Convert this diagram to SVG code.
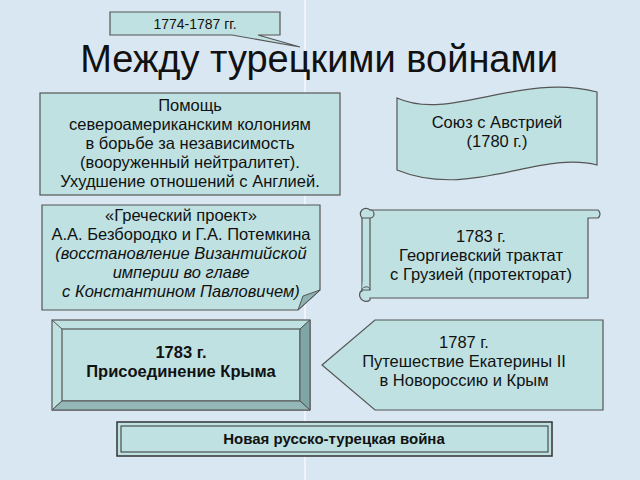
<svg xmlns="http://www.w3.org/2000/svg" width="640" height="480" viewBox="0 0 640 480">
<style>
.b{fill:#bfe1e1;stroke:#555;stroke-width:1.2}
text{font-family:"Liberation Sans",Arial,sans-serif;font-size:16.5px;fill:#111;text-anchor:middle}
.i{font-style:italic}.w{font-weight:bold}
</style>
<rect width="640" height="480" fill="#d9e7f3"/>
<line x1="305" y1="0" x2="305" y2="480" stroke="#eef4fa" stroke-width="2"/>
<g id="callout"><path class="b" d="M110,12H280V35H258L300,47L232,35H110Z"/><text x="195" y="29" style="font-size:14px">1774-1787 гг.</text></g>
<text x="319" y="72" style="font-size:38px">Между турецкими войнами</text>
<g id="help"><rect class="b" x="40" y="93" width="300" height="102"/>
<text x="190" y="111">Помощь</text><text x="190" y="130">североамериканским колониям</text><text x="190" y="149">в борьбе за независимость</text><text x="190" y="168">(вооруженный нейтралитет).</text><text x="190" y="187">Ухудшение отношений с Англией.</text></g>
<g id="austria"><path class="b" d="M397,98C450,122 520,72 597,92V165C540,150 470,200 397,170Z"/>
<text x="497" y="128">Союз с Австрией</text><text x="497" y="147">(1780 г.)</text></g>
<g id="greek"><path class="b" d="M42,205H320V290L298,310H42Z"/><path d="M298,310L303,296L320,290Z" fill="#8fb3b3" stroke="#555"/>
<text x="181" y="221">«Греческий проект»</text><text x="181" y="240">А.А. Безбородко и Г.А. Потемкина</text><text class="i" x="181" y="259">(восстановление Византийской</text><text class="i" x="181" y="278">империи во главе</text><text class="i" x="181" y="297">с Константином Павловичем)</text></g>
<g id="scroll"><path class="b" d="M370,210H598A5,5 0 0 1 598,218H588V298H370V300A5,5 0 0 1 362,290V218"/><path class="b" d="M370,210V290H362"/><path class="b" d="M362,218A5,5 0 0 1 370,210A4,4 0 0 1 370,218Z"/><path d="M362,292A4,4 0 0 1 370,290" fill="none" stroke="#555"/>
<text x="481" y="242">1783 г.</text><text x="481" y="261">Георгиевский трактат</text><text x="481" y="280">с Грузией (протекторат)</text></g>
<g id="crimea"><rect class="b" x="52" y="320" width="258" height="90"/><rect class="b" x="62" y="329" width="238" height="72"/>
<path d="M52,320L62,329M310,320L300,329M52,410L62,401M310,410L300,401" stroke="#555"/>
<path d="M300,329L310,320V410L300,401Z" fill="#7fa6a6" stroke="#555"/><path d="M62,401L52,410H310L300,401Z" fill="#94b8b8" stroke="#555"/>
<text class="w" x="181" y="358">1783 г.</text><text class="w" x="181" y="377">Присоединение Крыма</text></g>
<g id="trip"><path class="b" d="M322,365L375,320H603V410H375Z"/>
<text x="464" y="348">1787 г.</text><text x="464" y="367">Путешествие Екатерины II</text><text x="464" y="386">в Новороссию и Крым</text></g>
<g id="war"><rect x="117" y="422" width="435" height="34" fill="#bfe1e1" stroke="#333" stroke-width="1.5"/><rect x="121" y="426" width="427" height="26" fill="none" stroke="#333"/>
<text class="w" x="334" y="444" style="font-size:15px">Новая русско-турецкая война</text></g>
<g id="connectors"/>
</svg>
